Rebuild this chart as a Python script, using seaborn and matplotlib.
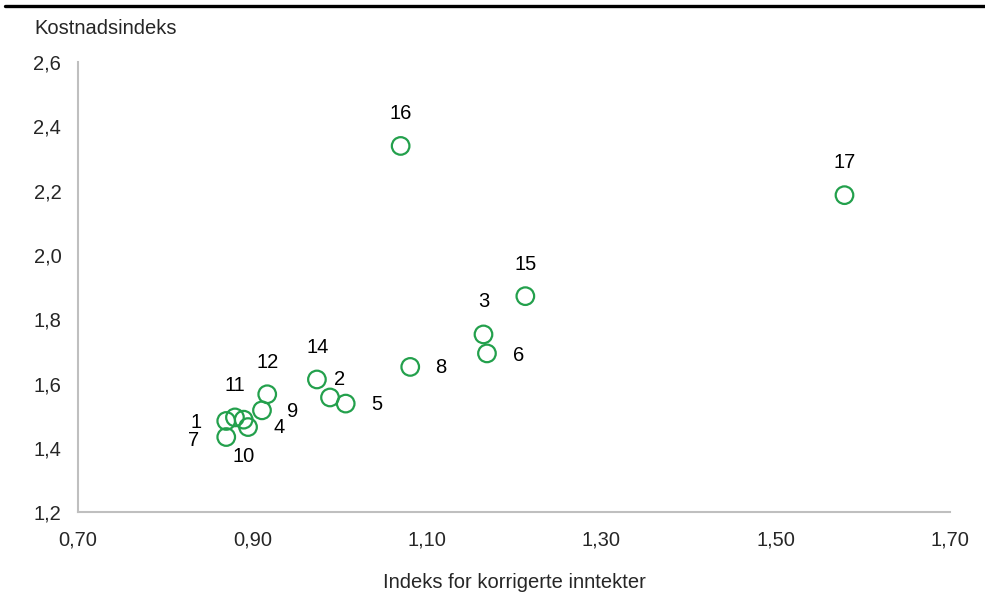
import matplotlib
matplotlib.use("Agg")
import matplotlib.pyplot as plt
from matplotlib.lines import Line2D
import seaborn as sns
import pandas as pd

# ---- data ----
labels = ["1", "2", "3", "4", "5", "6", "7", "8", "9", "10", "11", "12", "14", "15", "16", "17"]
income_index = [0.870, 0.989, 1.165, 0.895, 1.007, 1.169, 0.870, 1.081, 0.911, 0.890, 0.880, 0.917, 0.974, 1.213, 1.070, 1.579]
cost_index = [1.484, 1.557, 1.753, 1.465, 1.538, 1.694, 1.434, 1.652, 1.517, 1.488, 1.495, 1.567, 1.613, 1.872, 2.339, 2.186]
x_ticks = [0.70, 0.90, 1.10, 1.30, 1.50, 1.70]
y_ticks = [1.2, 1.4, 1.6, 1.8, 2.0, 2.2, 2.4, 2.6]

df = pd.DataFrame({"label": labels, "x": income_index, "y": cost_index})

# label offsets in points (style)
offsets = {
    "1": (-21.6, -1.4), "2": (6.7, 13.0), "3": (0, 23.5), "4": (22.3, 0),
    "5": (22.3, -0.5), "6": (22.8, -1.2), "7": (-23.8, -2.4), "8": (22.3, -0.4),
    "9": (21.9, -0.5), "10": (0, -26.4), "11": (0, 23.3), "12": (0.5, 22.8),
    "14": (0.7, 23.0), "15": (0, 22.8), "16": (0, 23.5), "17": (0, 23.3),
}

FS = 14.5

sns.set_theme(style="white")
plt.rcParams["font.family"] = ["Liberation Sans", "DejaVu Sans"]

fig = plt.figure(figsize=(9.85, 5.96), dpi=100)
ax = fig.add_axes([78 / 985, 1 - 512.3 / 596, (950 - 78) / 985, (512.3 - 62) / 596])

green = "#23a04c"
sns.scatterplot(data=df, x="x", y="y", ax=ax, s=160, marker="o",
                facecolor="none", edgecolor=green, linewidth=1.6, zorder=3)

for lab, xv, yv in zip(labels, income_index, cost_index):
    dx, dy = offsets[lab]
    ax.annotate(lab, (xv, yv), xytext=(dx, dy), textcoords="offset points",
                ha="center", va="center", fontsize=FS, color="#000000")

ax.set_xlim(x_ticks[0], x_ticks[-1])
ax.set_ylim(y_ticks[0], y_ticks[-1])
ax.set_xticks(x_ticks)
ax.set_yticks(y_ticks)
ax.set_xticklabels([f"{v:.2f}".replace(".", ",") for v in x_ticks], fontsize=FS)
ax.set_yticklabels([f"{v:.1f}".replace(".", ",") for v in y_ticks], fontsize=FS)
ax.tick_params(axis="x", length=0, pad=13)
ax.tick_params(axis="y", length=0, pad=12)
ax.set_xlabel("")
ax.set_ylabel("")

for side in ["top", "right"]:
    ax.spines[side].set_visible(False)
for side in ["left", "bottom"]:
    ax.spines[side].set_color("#bfbfbf")
    ax.spines[side].set_linewidth(1.5)
ax.grid(False)

fig.text(34 / 985, 1 - 28 / 596, "Kostnadsindeks", fontsize=FS, ha="left", va="center")
fig.text(514 / 985, 1 - 583 / 596, "Indeks for korrigerte inntekter", fontsize=FS,
         ha="center", va="center")

fig.add_artist(Line2D([5 / 985, 1.0], [1 - 5.5 / 596, 1 - 5.5 / 596],
                      transform=fig.transFigure, color="black", linewidth=2.4))

fig.savefig("out.png", dpi=100)
